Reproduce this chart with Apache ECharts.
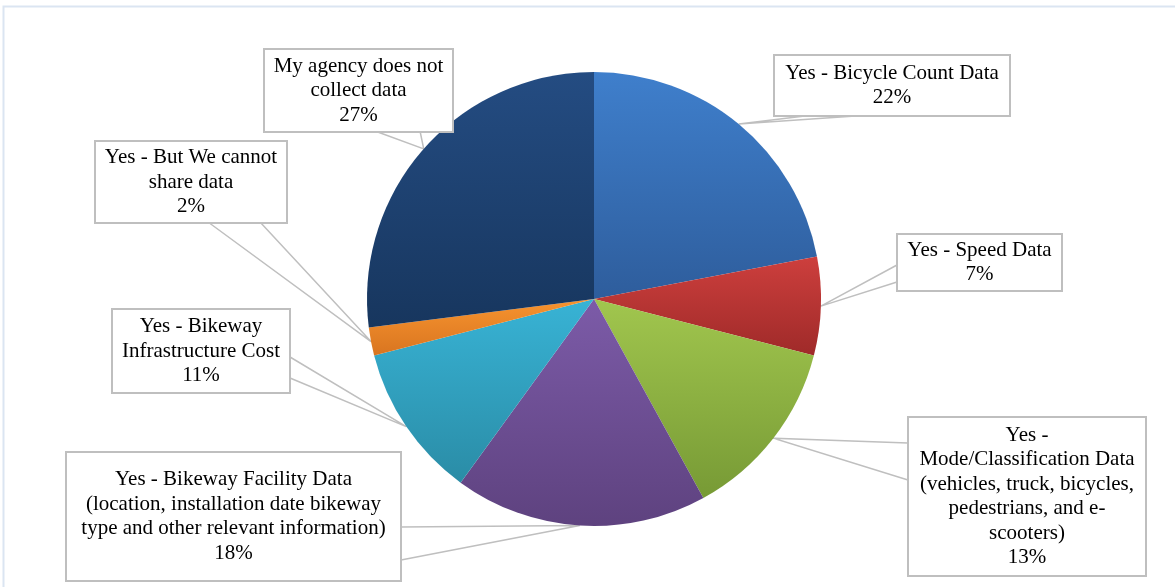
<!DOCTYPE html>
<html>
<head>
<meta charset="utf-8">
<script src="https://cdn.jsdelivr.net/npm/echarts@6/dist/echarts.min.js"></script>
<style>
html, body { margin: 0; padding: 0; background: #fff; }
#main { width: 1175px; height: 587px; }
</style>
</head>
<body>
<div id="main"></div>
<script>
const categories = [
  'Yes - Bicycle Count Data',
  'Yes - Speed Data',
  'Yes -\nMode/Classification Data\n(vehicles, truck, bicycles,\npedestrians, and e-\nscooters)',
  'Yes - Bikeway Facility Data\n(location, installation date bikeway\ntype and other relevant information)',
  'Yes - Bikeway\nInfrastructure Cost',
  'Yes - But We cannot\nshare data',
  'My agency does not\ncollect data'
]
const shares = [22, 7, 13, 18, 11, 2, 27]
const colorTop = ['#3f7fcc', '#cd3f3d', '#a1c64e', '#7c5ba8', '#38b3d5', '#f7942f', '#244c82']
const colorBottom = ['#2e5d9c', '#9f2a29', '#779a35', '#5e427f', '#2a8ca6', '#d97520', '#17365e']

// callout boxes: left, top, width, height, side the pointer leaves from, two offsets on that side
const boxes = [
  { x: 774, y: 56, w: 236, h: 59, side: 'bottom', a: 39, b: 96 },
  { x: 897, y: 235, w: 165, h: 55, side: 'left', a: 30, b: 47 },
  { x: 908, y: 418, w: 238, h: 157, side: 'left', a: 25, b: 62 },
  { x: 66, y: 453, w: 335, h: 127, side: 'right', a: 74, b: 107 },
  { x: 112, y: 310, w: 178, h: 82, side: 'right', a: 47, b: 68 },
  { x: 95, y: 142, w: 192, h: 80, side: 'bottom', a: 113, b: 165 },
  { x: 264, y: 50, w: 189, h: 81, side: 'bottom', a: 111, b: 156 }
]

const pieCenter = [594, 299]
const pieRadius = 227
const lineH = 24.5

function attach(box) {
  if (box.side === 'bottom') return [[box.x + box.a, box.y + box.h], [box.x + box.b, box.y + box.h]]
  if (box.side === 'left') return [[box.x, box.y + box.a], [box.x, box.y + box.b]]
  return [[box.x + box.w, box.y + box.a], [box.x + box.w, box.y + box.b]]
}

// fallback tip: midpoint of the slice on the outer edge
function tipOf(i) {
  let before = 0
  for (let k = 0; k < i; k++) before += shares[k]
  const total = shares.reduce((s, v) => s + v, 0)
  const ang = (before + shares[i] / 2) / total * Math.PI * 2
  return [pieCenter[0] + pieRadius * Math.sin(ang), pieCenter[1] - pieRadius * Math.cos(ang)]
}

const data = categories.map((name, i) => {
  const b = boxes[i]
  const lines = name.split('\n').length + 1
  const padV = (b.h - lines * lineH) / 2
  return {
    name: name,
    value: shares[i],
    itemStyle: {
      color: new echarts.graphic.LinearGradient(0, 0, 0, 1, [
        { offset: 0, color: colorTop[i] },
        { offset: 1, color: colorBottom[i] }
      ])
    },
    label: {
      width: b.w - 10,
      padding: [padV, 4, padV, 4]
    }
  }
})

let myChart = echarts.init(document.getElementById('main'))
myChart.setOption({
  animation: false,
  graphic: [
    {
      type: 'rect',
      shape: { x: 3.5, y: 6.5, width: 1300, height: 700 },
      style: { fill: 'none', stroke: '#dbe5f2', lineWidth: 2 },
      silent: true
    }
  ],
  series: [
    {
      type: 'pie',
      center: pieCenter,
      radius: pieRadius,
      startAngle: 90,
      clockwise: true,
      avoidLabelOverlap: false,
      itemStyle: {
        borderWidth: 0
      },
      label: {
        show: true,
        position: 'outside',
        formatter: p => p.name + '\n' + p.value + '%',
        fontFamily: '"Liberation Serif", "Times New Roman", serif',
        fontSize: 21,
        lineHeight: lineH,
        color: '#000',
        align: 'center',
        overflow: 'none',
        backgroundColor: '#fff',
        borderColor: '#bfbfbf',
        borderWidth: 2
      },
      labelLine: {
        show: true,
        length: 10,
        length2: 10,
        lineStyle: {
          color: '#bfbfbf',
          width: 1.5
        }
      },
      labelLayout: function (params) {
        const i = params.dataIndex
        const b = boxes[i]
        const ends = attach(b)
        const tip = params.labelLinePoints && params.labelLinePoints[0]
          ? params.labelLinePoints[0] : tipOf(i)
        return {
          x: b.x + b.w / 2,
          y: b.y + b.h / 2,
          align: 'center',
          verticalAlign: 'middle',
          hideOverlap: false,
          labelLinePoints: [ends[0], tip, ends[1]]
        }
      },
      emphasis: { disabled: true },
      data: data
    }
  ]
})
</script>
</body>
</html>
